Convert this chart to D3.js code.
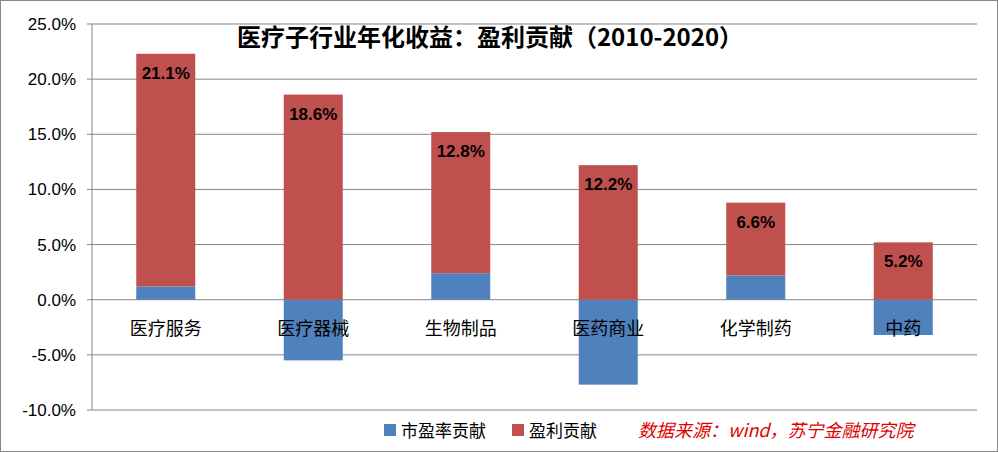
<!DOCTYPE html><html><head><meta charset="utf-8">
<script src="https://cdn.jsdelivr.net/npm/d3@7"></script>
<style>body{margin:0;background:#fff}</style></head><body>
<svg id="c" width="998" height="452"></svg>
<script>
const categories=["医疗服务","医疗器械","生物制品","医药商业","化学制药","中药"];
const peContribution=[1.2,-5.5,2.4,-7.7,2.2,-3.2];
const earningsContribution=[21.1,18.6,12.8,12.2,6.6,5.2];
const yTicks=[-10,-5,0,5,10,15,20,25];
const seriesNames=["市盈率贡献","盈利贡献"];
const colors=["#4f81bd","#c0504d"];

const svg=d3.select("#c");
svg.append("rect").attr("x",0.5).attr("y",0.5).attr("width",997).attr("height",451).attr("fill","#fff").attr("stroke","#888");
const rows=categories.map((c,i)=>({cat:c,pe:peContribution[i],earn:earningsContribution[i]}));
const stack=d3.stack().keys(["pe","earn"]).offset(d3.stackOffsetDiverging)(rows);
const x=d3.scaleBand().domain(categories).range([92,977]).paddingInner(0.6).paddingOuter(0.3);
const y=d3.scaleLinear().domain([-10,25]).range([410,24]);
const font="'Noto Sans CJK SC','Liberation Sans',sans-serif";
svg.append("g").selectAll("line").data(yTicks).join("line")
 .attr("x1",92).attr("x2",977).attr("y1",d=>y(d)).attr("y2",d=>y(d)).attr("stroke","#868686");
svg.append("line").attr("x1",92).attr("x2",92).attr("y1",24).attr("y2",410).attr("stroke","#868686");
svg.append("g").selectAll("line").data(yTicks).join("line")
 .attr("x1",87).attr("x2",92).attr("y1",d=>y(d)).attr("y2",d=>y(d)).attr("stroke","#868686");
svg.append("g").selectAll("text").data(yTicks).join("text")
 .attr("x",76).attr("y",d=>y(d)+6).attr("text-anchor","end").attr("font-family","'Liberation Sans',sans-serif")
 .attr("font-size",17).text(d=>d.toFixed(1)+"%");
stack.forEach((s,si)=>{
 svg.append("g").selectAll("rect").data(s).join("rect")
  .attr("x",d=>x(d.data.cat)).attr("width",x.bandwidth())
  .attr("y",d=>y(Math.max(d[0],d[1]))).attr("height",d=>Math.abs(y(d[0])-y(d[1])))
  .attr("fill",colors[si]);
});
svg.append("g").selectAll("text").data(stack[1]).join("text")
 .attr("x",d=>x(d.data.cat)+x.bandwidth()/2).attr("y",d=>y(d[1])+25)
 .attr("text-anchor","middle").attr("font-family","'Liberation Sans',sans-serif").attr("font-weight","bold")
 .attr("font-size",17).text(d=>d.data.earn.toFixed(1)+"%");
svg.append("g").selectAll("text").data(categories).join("text")
 .attr("x",d=>x(d)+x.bandwidth()/2).attr("y",y(0)+35).attr("text-anchor","middle")
 .attr("font-family",font).attr("font-size",18).text(d=>d);
svg.append("text").attr("x",490).attr("y",46).attr("text-anchor","middle").attr("font-family",font)
 .attr("font-weight","bold").attr("font-size",24).text("医疗子行业年化收益：盈利贡献（2010-2020）");
const lg=svg.append("g");
[[384,0],[512,1]].forEach(([lx,i])=>{
 lg.append("rect").attr("x",lx).attr("y",424).attr("width",12).attr("height",12).attr("fill",colors[i]);
 lg.append("text").attr("x",lx+17).attr("y",437).attr("font-family",font).attr("font-size",17).text(seriesNames[i]);
});
lg.append("text").attr("x",638).attr("y",437).attr("font-family",font).attr("font-style","italic")
 .attr("font-size",18).attr("fill","#e00000").text("数据来源：wind，苏宁金融研究院");
</script></body></html>
